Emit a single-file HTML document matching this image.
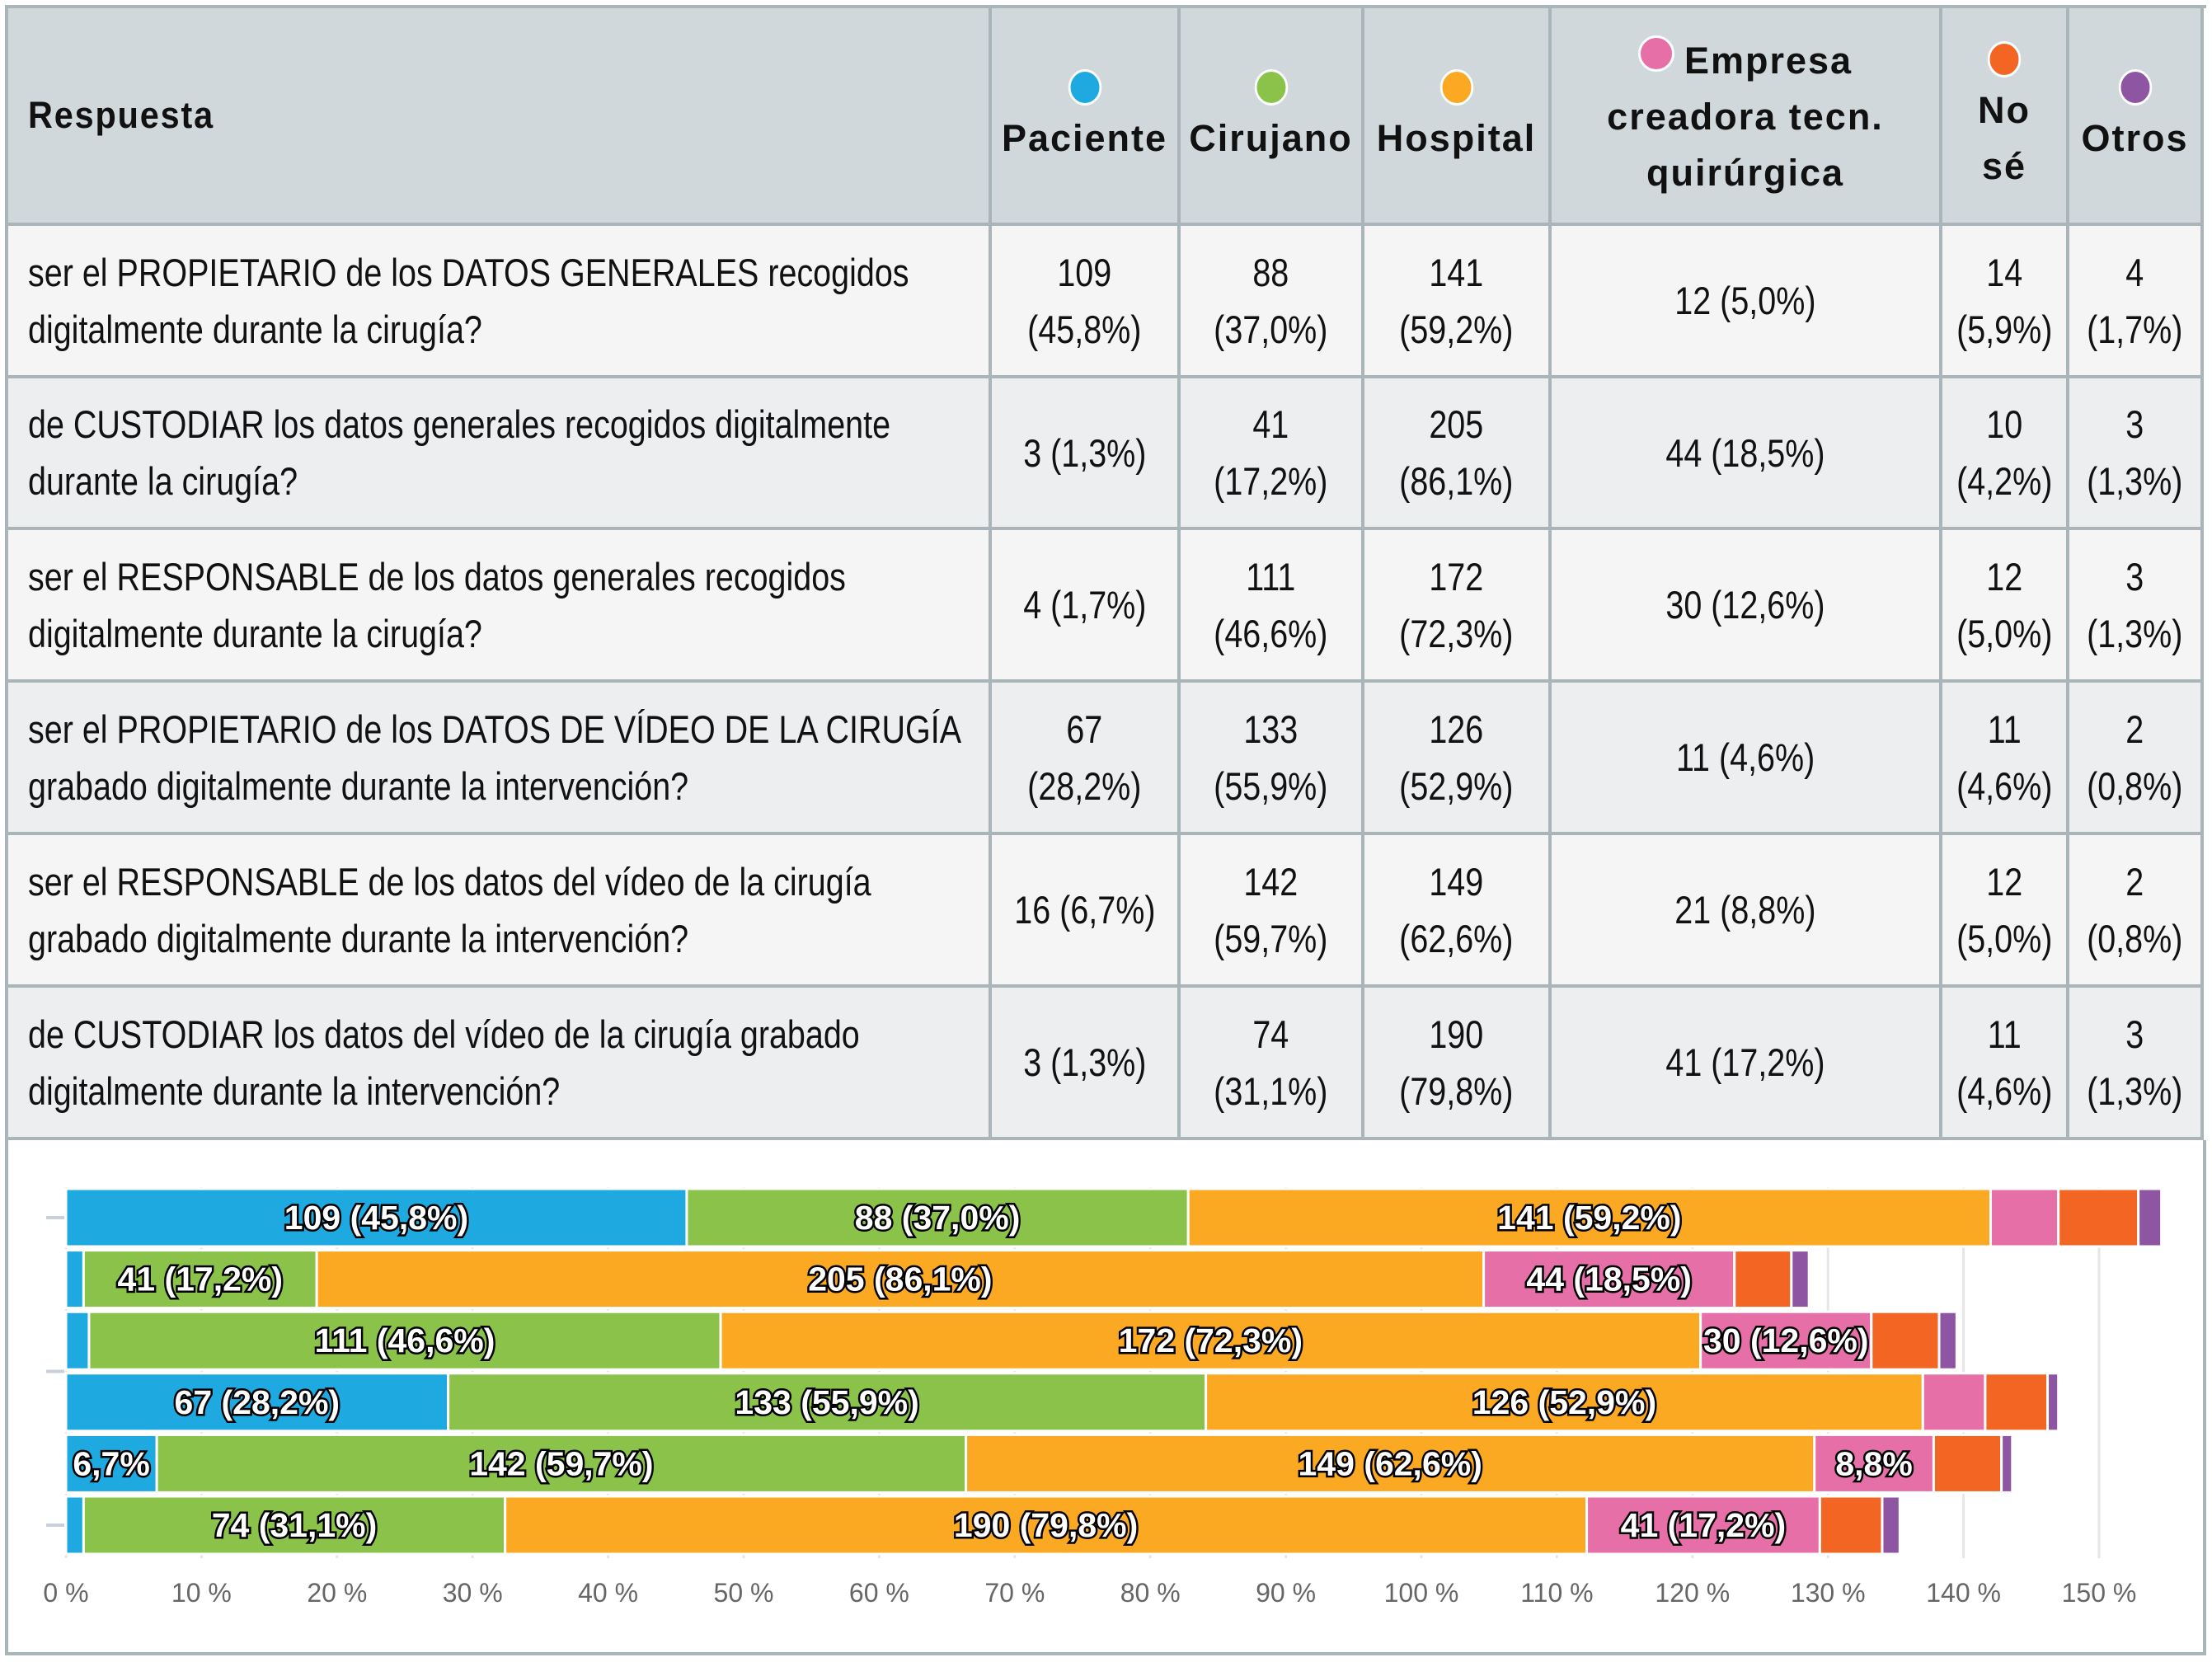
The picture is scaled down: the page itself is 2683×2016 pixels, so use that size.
<!DOCTYPE html>
<html><head><meta charset="utf-8">
<style>
body{margin:0;width:2683px;height:2016px;background:#fff;position:relative;overflow:hidden;font-family:"Liberation Sans",sans-serif;color:#111}
.c{position:absolute;box-sizing:border-box;display:flex;align-items:center;justify-content:center;text-align:center;font-size:47px;line-height:69px;border-right:4px solid #aab5ba;border-bottom:4px solid #aab5ba}
.c>span{display:inline-block;white-space:nowrap;transform:scaleX(0.84);transform-origin:center}
.h{background:#d0d8dc;font-family:"Liberation Sans",sans-serif;font-weight:bold;font-size:45px;letter-spacing:2px;flex-direction:column;line-height:68px}
.h>span{transform:scaleX(0.92)}
.l{justify-content:flex-start;text-align:left;padding-left:24px}
.l>span{transform-origin:left center}
.dot{display:inline-block;width:44px;height:44px;border-radius:50%;border:3px solid #fff;box-sizing:border-box;margin:6px 0}
</style></head><body>
<div style="position:absolute;left:6px;top:6px;width:2670px;height:1380px;border-left:4px solid #aab5ba;border-top:4px solid #aab5ba;box-sizing:border-box"></div>
<div style="position:absolute;left:6px;top:1383px;width:2670px;height:625px;border:4px solid #aab5ba;border-top:none;box-sizing:border-box;background:#fff"></div>
<svg id="chart" style="position:absolute;left:0;top:0" width="2683" height="2016"></svg>
<script>
const colX=[10,1203,1432,1655,1882,2356,2510,2673];
const rowY=[10,274,459,643,828,1013,1198,1383];
const questions=["ser el PROPIETARIO de los DATOS GENERALES recogidos<br>digitalmente durante la cirugía?","de CUSTODIAR los datos generales recogidos digitalmente<br>durante la cirugía?","ser el RESPONSABLE de los datos generales recogidos<br>digitalmente durante la cirugía?","ser el PROPIETARIO de los DATOS DE VÍDEO DE LA CIRUGÍA<br>grabado digitalmente durante la intervención?","ser el RESPONSABLE de los datos del vídeo de la cirugía<br>grabado digitalmente durante la intervención?","de CUSTODIAR los datos del vídeo de la cirugía grabado<br>digitalmente durante la intervención?"];
const seriesNames=["Paciente","Cirujano","Hospital","Empresa creadora tecn. quirúrgica","No sé","Otros"];
const colors=["#1fa9e1","#8bc34a","#fba823","#e66fa8","#f26522","#8e55a2"];
const counts=[[109,88,141,12,14,4],[3,41,205,44,10,3],[4,111,172,30,12,3],[67,133,126,11,11,2],[16,142,149,21,12,2],[3,74,190,41,11,3]];
const pcts=[[45.8,37.0,59.2,5.0,5.9,1.7],[1.3,17.2,86.1,18.5,4.2,1.3],[1.7,46.6,72.3,12.6,5.0,1.3],[28.2,55.9,52.9,4.6,4.6,0.8],[6.7,59.7,62.6,8.8,5.0,0.8],[1.3,31.1,79.8,17.2,4.6,1.3]];
const xTicks=[0,10,20,30,40,50,60,70,80,90,100,110,120,130,140,150];
const fmt=v=>v.toFixed(1).replace('.',',');
const tbl=document.body;
function cell(x0,x1,y0,y1,html,cls,name,wrap){const d=document.createElement('div');d.className='c '+cls;
d.style.left=x0+'px';d.style.top=y0+'px';d.style.width=(x1-x0)+'px';d.style.height=(y1-y0)+'px';d.innerHTML=wrap?'<span>'+html+'</span>':html;


tbl.appendChild(d);return d;}
const rh=cell(colX[0],colX[1],rowY[0],rowY[1],'Respuesta','h','header-respuesta',true);
rh.style.alignItems='flex-start';rh.style.paddingLeft='24px';rh.firstChild.style.transformOrigin='left center';
const hdr=['<span class="dot" style="background:'+colors[0]+'"></span><div>Paciente</div>','<span class="dot" style="background:'+colors[1]+'"></span><div>Cirujano</div>','<span class="dot" style="background:'+colors[2]+'"></span><div>Hospital</div>','<div><span class="dot" style="background:'+colors[3]+';vertical-align:-4px;margin-right:12px"></span>Empresa</div><div>creadora tecn.</div><div>quirúrgica</div>','<span class="dot" style="background:'+colors[4]+'"></span><div>No</div><div>sé</div>','<span class="dot" style="background:'+colors[5]+'"></span><div>Otros</div>'];
for(let j=0;j<6;j++)cell(colX[j+1],colX[j+2],rowY[0],rowY[1],hdr[j],'h','header-'+j,false);
for(let i=0;i<6;i++){const bg=i%2?'#eceef0':'#f5f5f5';
 cell(colX[0],colX[1],rowY[i+1],rowY[i+2],questions[i],'l','question-'+i,true).style.background=bg;
 for(let j=0;j<6;j++){
  let t=counts[i][j]+(j===0||j===3?(pcts[i][j]>=10&&j===0?'<br>':' '):'<br>')+'('+fmt(pcts[i][j])+'%)';
  cell(colX[j+1],colX[j+2],rowY[i+1],rowY[i+2],t,'','value-'+i+'-'+j,true).style.background=bg;}}
const svg=document.getElementById('chart');const NS='http://www.w3.org/2000/svg';
const x=v=>80+v*16.44;const yC=i=>1477+i*43.6*1.711;const bh=70;
function mk(t,a){const e=document.createElementNS(NS,t);for(const k in a)e.setAttribute(k,a[k]);svg.appendChild(e);return e;}
xTicks.forEach(v=>{const g=mk('line',{x1:x(v),x2:x(v),y1:1440,y2:1890,stroke:'#e6e6e6','stroke-width':3});


const t=mk('text',{x:x(v),y:1943,'text-anchor':'middle','font-size':32,fill:'#666','font-family':'Liberation Sans, sans-serif'});t.textContent=v+' %';

});
[0,2.5,5].forEach(i=>{const a=mk('line',{x1:56,x2:78,y1:yC(i),y2:yC(i),stroke:'#c8d0e0','stroke-width':4});});
for(let i=0;i<6;i++){let acc=0;
 for(let j=0;j<6;j++){const v=pcts[i][j];const x0=x(acc),w=v*16.44;
  const r=mk('rect',{x:x0,y:yC(i)-bh/2,width:w,height:bh,fill:colors[j],stroke:'#fff','stroke-width':3});
  
  
  let lab=w>200?counts[i][j]+' ('+fmt(v)+'%)':(w>100?fmt(v)+'%':'');
  if(lab){const t=mk('text',{x:x0+w/2,y:yC(i)+14,'text-anchor':'middle','font-size':41,'font-weight':'bold',fill:'#fff',stroke:'#000','stroke-width':5,'paint-order':'stroke','font-family':'Liberation Sans, sans-serif'});t.textContent=lab;
  
  }
  acc+=v;}}
</script>
</body></html>
